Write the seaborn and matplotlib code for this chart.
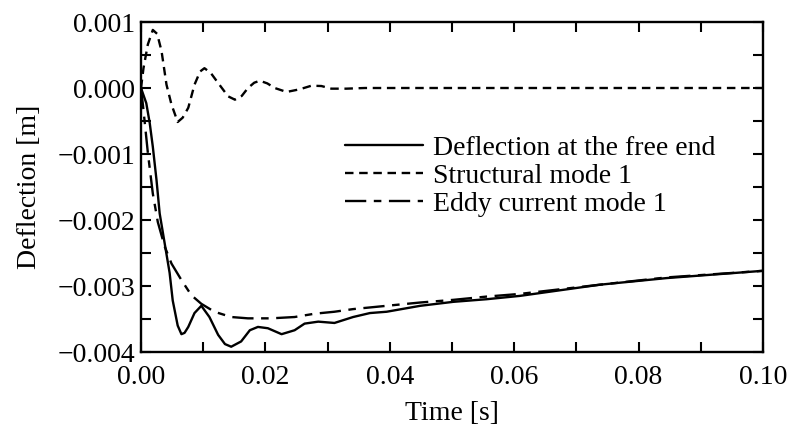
import numpy as np
import pandas as pd
import matplotlib
matplotlib.use("Agg")
import matplotlib.pyplot as plt
import seaborn as sns
from matplotlib.ticker import MultipleLocator, FuncFormatter

# ---- data ----
t_free = [0.0, 0.00085, 0.0014, 0.0019, 0.0025, 0.003, 0.0038, 0.0046, 0.0051, 0.0059,
          0.0065, 0.0070, 0.0076, 0.0086, 0.0097, 0.011, 0.0124, 0.0135, 0.0145, 0.0161,
          0.0175, 0.0188, 0.0204, 0.0226, 0.0247, 0.0263, 0.0285, 0.0311, 0.0341, 0.0368,
          0.0395, 0.0449, 0.0502, 0.0556, 0.0609, 0.0738, 0.0845, 0.1]
y_free = [0.0, -0.00023, -0.00053, -0.00089, -0.0014, -0.0019, -0.00235, -0.0028, -0.00322, -0.0036,
          -0.00373, -0.00371, -0.00362, -0.00341, -0.0033, -0.00347, -0.00374, -0.00388, -0.00392, -0.00384,
          -0.00367, -0.00362, -0.00364, -0.00373, -0.00367, -0.00357, -0.00354, -0.00356, -0.00347, -0.00341,
          -0.00339, -0.0033, -0.00324, -0.0032, -0.00315, -0.00298, -0.00288, -0.00277]

t_struct = [0.0, 0.0004, 0.0011, 0.0019, 0.0026, 0.0033, 0.0041, 0.0049, 0.0059, 0.0067,
            0.0076, 0.0086, 0.0095, 0.0102, 0.0112, 0.0124, 0.014, 0.0151, 0.0162, 0.0172,
            0.0182, 0.0191, 0.0203, 0.0215, 0.0234, 0.0255, 0.0274, 0.029, 0.0306, 0.033,
            0.036, 0.1]
y_struct = [0.0, 0.0003, 0.00066, 0.00088, 0.00082, 0.00056, 0.00005, -0.00025, -0.000515, -0.00045,
            -0.0003, 0.00005, 0.00025, 0.0003, 0.00023, 0.000076, -0.000126, -0.000177, -0.00012, 0.0,
            0.00008, 0.00011, 0.00007, 0.0, -0.00006, -0.00002, 0.000035, 0.00003, -0.00001, -0.00001,
            0.0, 0.0]

t_eddy = [0.0, 0.0003, 0.0006, 0.0011, 0.0019, 0.0027, 0.0038, 0.0049, 0.0065, 0.0081,
          0.0097, 0.0118, 0.0145, 0.0172, 0.0209, 0.0247, 0.0279, 0.0311, 0.0341, 0.0395,
          0.0449, 0.0502, 0.0556, 0.0609, 0.0738, 0.0845, 0.1]
y_eddy = [0.0, -0.00025, -0.00052, -0.00098, -0.0016, -0.00203, -0.0024, -0.00266, -0.00291, -0.00314,
          -0.00327, -0.00339, -0.00347, -0.00349, -0.00349, -0.00347, -0.00342, -0.00339, -0.00335, -0.0033,
          -0.00325, -0.00321, -0.00316, -0.00312, -0.00298, -0.00287, -0.00277]

labels = ["Deflection at the free end", "Structural mode 1", "Eddy current mode 1"]

df_free = pd.DataFrame({"t": t_free, "y": y_free})
df_struct = pd.DataFrame({"t": t_struct, "y": y_struct})
df_eddy = pd.DataFrame({"t": t_eddy, "y": y_eddy})

sns.set_theme(style="ticks")
plt.rcParams["font.family"] = ["Liberation Serif", "DejaVu Serif"]
plt.rcParams["text.color"] = "black"
plt.rcParams["axes.labelcolor"] = "black"
plt.rcParams["xtick.color"] = "black"
plt.rcParams["ytick.color"] = "black"

FS = 20
fig = plt.figure(figsize=(7.93, 4.30), dpi=100)
ax = fig.add_axes([141 / 793, 78 / 430, 622 / 793, 330 / 430])

lw = 1.7
sns.lineplot(data=df_free, x="t", y="y", ax=ax, color="black", lw=lw, sort=False,
             label=labels[0])
sns.lineplot(data=df_struct, x="t", y="y", ax=ax, color="black", lw=lw, sort=False,
             label=labels[1])
sns.lineplot(data=df_eddy, x="t", y="y", ax=ax, color="black", lw=lw, sort=False,
             label=labels[2])
lines = ax.get_lines()
for ln in lines:
    ln.set_solid_joinstyle("round")
    ln.set_dash_joinstyle("round")
lines[1].set_dashes((3.6, 2.4))
lines[2].set_dashes((9, 3.2, 3.2, 3.2))

ax.set_xlim(0, 0.10)
ax.set_ylim(-0.004, 0.001)
ax.xaxis.set_major_locator(MultipleLocator(0.01))
ax.yaxis.set_major_locator(MultipleLocator(0.0005))


def xfmt(v, pos):
    i = int(round(v / 0.01))
    return f"{v:.2f}" if i % 2 == 0 else ""


def yfmt(v, pos):
    i = int(round(v / 0.0005))
    if i % 2 != 0:
        return ""
    s = f"{v:.3f}"
    if s.startswith("-0.000"):
        s = "0.000"
    return s.replace("-", "\u2212")


ax.xaxis.set_major_formatter(FuncFormatter(xfmt))
ax.yaxis.set_major_formatter(FuncFormatter(yfmt))
ax.tick_params(direction="in", length=7, width=1.5, top=True, right=True,
               labelsize=FS, colors="black", labelcolor="black")
ax.tick_params(axis="x", pad=9)
ax.tick_params(axis="y", pad=4)
for sp in ax.spines.values():
    sp.set_linewidth(1.7)
    sp.set_color("black")
    sp.set_visible(True)

ax.set_xlabel("Time [s]", fontsize=FS, labelpad=8, color="black")
ax.set_ylabel("Deflection [m]", fontsize=FS, labelpad=11, color="black")

leg = ax.legend(loc="upper left", bbox_to_anchor=(0.328, 0.656), frameon=False,
                fontsize=FS, handlelength=2.8, handletextpad=0.35,
                labelspacing=0.09, borderpad=0, borderaxespad=0, labelcolor="black")

fig.savefig("out.png", dpi=100)
